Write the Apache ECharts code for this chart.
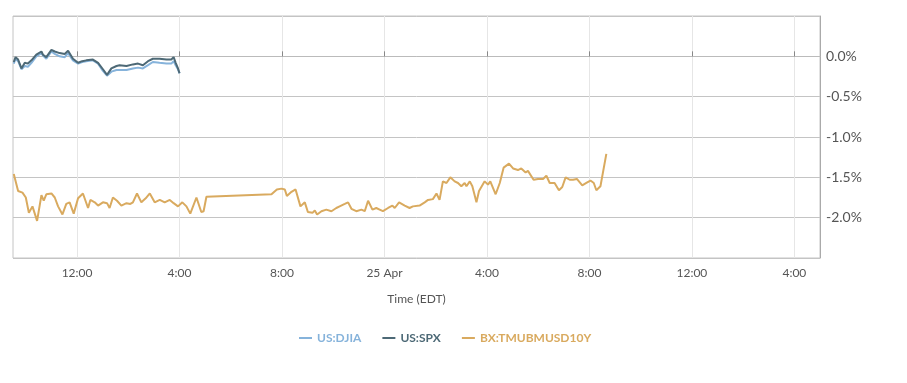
<!DOCTYPE html>
<html><head><meta charset="utf-8">
<script src="https://cdn.jsdelivr.net/npm/echarts@6/dist/echarts.min.js"></script>
<style>html,body{margin:0;padding:0;background:#fff}#c{width:907px;height:383px}</style>
</head><body><div id="c"></div>
<script>
// x values: hours since 00:00 on 24 Apr (EDT)
const seriesNames = ['US:DJIA', 'US:SPX', 'BX:TMUBMUSD10Y'];
const xTickValues = [12, 16, 20, 24, 28, 32, 36, 40];
const stockTimes = [9.53,9.6,9.7,9.83,9.96,10.08,10.22,10.41,10.61,10.67,10.8,11.0,11.13,11.32,11.52,11.65,11.72,11.84,12.04,12.2,12.36,12.62,12.82,13.01,13.17,13.34,13.54,13.66,13.93,14.18,14.38,14.57,14.77,14.96,15.22,15.49,15.68,15.77,15.85,15.94,16.0];
const djiaValues = [-0.09,-0.03,-0.06,-0.16,-0.12,-0.13,-0.08,0.0,0.04,0.01,-0.03,0.06,0.03,0.0,-0.01,0.04,0.02,-0.05,-0.09,-0.07,-0.06,-0.05,-0.09,-0.18,-0.24,-0.19,-0.17,-0.17,-0.17,-0.15,-0.14,-0.15,-0.11,-0.07,-0.08,-0.09,-0.09,-0.06,-0.11,-0.16,-0.21];
const spxValues = [-0.07,-0.01,-0.04,-0.15,-0.08,-0.09,-0.05,0.02,0.06,0.02,-0.01,0.08,0.06,0.04,0.03,0.07,0.05,-0.03,-0.08,-0.06,-0.05,-0.04,-0.08,-0.16,-0.23,-0.15,-0.12,-0.11,-0.12,-0.1,-0.09,-0.11,-0.06,-0.03,-0.03,-0.04,-0.04,-0.01,-0.08,-0.15,-0.21];
const bondTimes = [9.53,9.70,9.87,10.0,10.12,10.26,10.44,10.61,10.70,10.80,11.0,11.13,11.26,11.43,11.58,11.71,11.87,12.04,12.23,12.43,12.52,12.69,12.82,13.01,13.17,13.27,13.40,13.56,13.73,13.93,14.08,14.18,14.34,14.51,14.68,14.84,15.03,15.23,15.42,15.62,15.77,15.94,16.11,16.27,16.42,16.66,16.85,16.94,17.05,19.59,19.80,19.98,20.11,20.19,20.37,20.53,20.72,20.89,21.01,21.19,21.28,21.37,21.54,21.73,21.93,22.12,22.25,22.45,22.58,22.71,22.90,23.10,23.23,23.36,23.53,23.68,23.81,23.94,24.14,24.31,24.40,24.57,24.79,24.98,25.11,25.37,25.57,25.70,25.89,26.03,26.15,26.28,26.42,26.57,26.74,26.87,27.00,27.13,27.20,27.33,27.43,27.59,27.69,27.91,28.04,28.13,28.34,28.50,28.65,28.86,29.02,29.21,29.34,29.51,29.60,29.82,29.99,30.19,30.32,30.45,30.64,30.81,30.94,31.07,31.23,31.36,31.51,31.72,31.88,32.04,32.17,32.27,32.43,32.66];
const bondValues = [-1.46,-1.67,-1.69,-1.75,-1.94,-1.86,-2.04,-1.72,-1.79,-1.71,-1.70,-1.75,-1.86,-1.96,-1.83,-1.81,-1.95,-1.76,-1.70,-1.88,-1.78,-1.81,-1.85,-1.81,-1.82,-1.88,-1.75,-1.79,-1.85,-1.82,-1.83,-1.81,-1.70,-1.81,-1.76,-1.70,-1.81,-1.78,-1.81,-1.78,-1.82,-1.86,-1.81,-1.86,-1.95,-1.75,-1.93,-1.92,-1.74,-1.71,-1.65,-1.64,-1.65,-1.73,-1.68,-1.65,-1.86,-1.81,-1.93,-1.94,-1.91,-1.96,-1.92,-1.90,-1.92,-1.88,-1.86,-1.83,-1.81,-1.89,-1.92,-1.90,-1.92,-1.79,-1.90,-1.88,-1.90,-1.92,-1.88,-1.85,-1.88,-1.81,-1.85,-1.88,-1.86,-1.85,-1.81,-1.78,-1.77,-1.70,-1.78,-1.55,-1.57,-1.50,-1.55,-1.57,-1.61,-1.57,-1.61,-1.55,-1.61,-1.81,-1.67,-1.55,-1.59,-1.55,-1.71,-1.57,-1.38,-1.33,-1.39,-1.41,-1.39,-1.44,-1.42,-1.53,-1.52,-1.52,-1.48,-1.57,-1.57,-1.66,-1.62,-1.50,-1.53,-1.53,-1.52,-1.60,-1.57,-1.54,-1.57,-1.66,-1.61,-1.21];
const colors = ['#86b3db', '#4d6976', '#d9aa5f'];

function pairs(t, v) { return t.map((x, i) => [x, v[i]]); }
function xLabel(v) {
  if (Math.abs(v - 24) < 1e-6) return '25 Apr';
  const h = Math.round(v) % 24;
  const h12 = h % 12 === 0 ? 12 : h % 12;
  return h12 + ':00';
}

const chart = echarts.init(document.getElementById('c'), null, {renderer: 'canvas'});
const lineSeries = (name, data, color) => ({
  name, type: 'line', data, showSymbol: false, symbol: 'none',
  lineStyle: {width: 2, color}, itemStyle: {color}, animation: false
});
chart.setOption({
  animation: false,
  grid: {left: 13, right: 87, top: 16, bottom: 125, show: true, borderColor: '#c4c4c4', borderWidth: 1},
  legend: {
    left: 294, top: 327, itemWidth: 13, itemHeight: 2, itemGap: 21, icon: 'rect',
    textStyle: {fontFamily: 'Lato', fontWeight: 'bold', fontSize: 12},
    data: seriesNames.map((n, i) => ({name: n, textStyle: {color: colors[i]}}))
  },
  xAxis: {
    type: 'value', min: 9.5, max: 41,
    name: 'Time (EDT)', nameLocation: 'middle', nameGap: 35,
    nameTextStyle: {color: '#555', fontFamily: 'Lato', fontSize: 12},
    axisLine: {show: true, lineStyle: {color: '#bbb'}},
    axisTick: {show: true, inside: true, length: 5, customValues: xTickValues, lineStyle: {color: '#888'}},
    axisLabel: {formatter: xLabel, customValues: xTickValues, color: '#555', fontFamily: 'Lato', fontSize: 12, margin: 9},
    splitLine: {show: true, lineStyle: {color: '#e6e6e6'}}
  },
  yAxis: {
    type: 'value', position: 'right', min: -2.5, max: 0.5, interval: 0.5,
    axisLine: {show: true, lineStyle: {color: '#aaa'}},
    axisTick: {show: false},
    axisLabel: {formatter: v => v.toFixed(1) + '%', color: '#555', fontFamily: 'Lato', fontSize: 14, margin: 6, showMinLabel: false, showMaxLabel: false},
    splitLine: {show: true, lineStyle: {color: '#c4c4c4'}}
  },
  series: [
    lineSeries(seriesNames[0], pairs(stockTimes, djiaValues), colors[0]),
    lineSeries(seriesNames[1], pairs(stockTimes, spxValues), colors[1]),
    lineSeries(seriesNames[2], pairs(bondTimes, bondValues), colors[2])
  ]
});
</script></body></html>
